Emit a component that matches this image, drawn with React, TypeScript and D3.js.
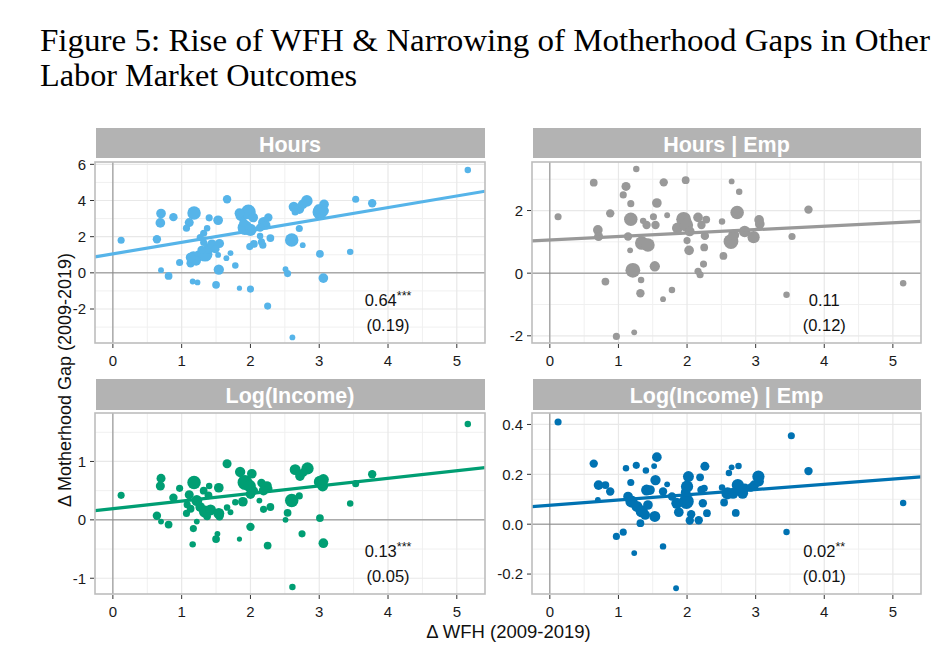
import React from 'react';
import * as d3 from 'd3';

// ---------- data ----------
const titleLines = [
  'Figure 5: Rise of WFH & Narrowing of Motherhood Gaps in Other',
  'Labor Market Outcomes',
];
const panelNames = ['Hours', 'Hours | Emp', 'Log(Income)', 'Log(Income) | Emp'];
const panelColors = ['#56B4E9', '#999999', '#009E73', '#0072B2'];
const coefText = ['0.64', '0.11', '0.13', '0.02'];
const coefStars = ['***', '', '***', '**'];
const seText = ['(0.19)', '(0.12)', '(0.05)', '(0.01)'];
const fitIntercept = [1.05, 1.06, 0.19, 0.076];
const fitSlope = [0.64, 0.11, 0.13, 0.021];
const xTicks = [0, 1, 2, 3, 4, 5];
const xDomain = [-0.26, 5.41];
const yDomains = [
  [-3.88, 6.13],
  [-2.23, 3.55],
  [-1.27, 1.83],
  [-0.28, 0.446],
];
const yTicks = [
  [-2, 0, 2, 4, 6],
  [-2, 0, 2],
  [-1, 0, 1],
  [-0.2, 0, 0.2, 0.4],
];
const yTickLabels = [
  ['-2', '0', '2', '4', '6'],
  ['-2', '0', '2'],
  ['-1', '0', '1'],
  ['-0.2', '0.0', '0.2', '0.4'],
];

// [ΔWFH, Δgap, weight]
const hoursPts = [
  [0.12, 1.8, 8], [5.16, 5.69, 7], [0.7, 3.28, 12], [0.69, 2.76, 12], [0.64, 1.86, 10], [0.88, 3.08, 10],
  [1.18, 3.31, 18], [1.11, 2.78, 11], [1.07, 2.47, 8], [1.4, 3.04, 8], [1.53, 2.91, 12], [1.66, 4.07, 10],
  [1.37, 2.47, 7], [1.32, 2.19, 8], [1.27, 1.95, 8], [0.97, 0.57, 8], [0.7, 0.15, 6], [0.81, -0.17, 9],
  [1.16, -0.48, 6], [1.23, -0.53, 6], [1.5, -0.66, 9], [1.54, 0.18, 13], [1.53, 0.99, 6], [1.65, 0.81, 6],
  [1.71, 1.09, 6], [1.78, 0.41, 7], [1.84, -0.85, 5], [2.0, -0.9, 8], [2.25, -1.84, 8], [2.61, -3.57, 6],
  [1.13, 0.53, 10], [1.17, 0.85, 16], [1.25, 0.94, 14], [1.34, 1.03, 20], [1.39, 1.34, 14], [1.44, 1.58, 12],
  [1.55, 1.62, 11], [1.29, 1.27, 10], [1.21, 0.66, 12], [1.32, 1.68, 8], [1.13, 0.85, 12], [1.49, 1.31, 10],
  [1.87, 3.19, 16], [1.97, 3.37, 20], [1.84, 3.3, 12], [2.04, 3.06, 12], [1.92, 2.5, 20], [2.0, 2.38, 16],
  [1.9, 2.78, 10], [1.99, 1.45, 8], [2.05, 1.6, 9], [2.14, 2.04, 7], [2.16, 1.71, 8], [2.18, 1.53, 8],
  [2.29, 1.92, 9], [2.19, 2.78, 14], [2.23, 2.63, 10], [2.26, 3.06, 10], [2.14, 2.5, 10], [2.6, 1.82, 18],
  [2.71, 2.45, 8], [2.76, 1.53, 6], [2.63, 3.65, 13], [2.71, 3.52, 12], [2.82, 3.98, 15], [2.76, 3.79, 12],
  [2.65, 3.37, 8], [3.01, 3.37, 20], [3.07, 3.79, 12], [2.99, 3.52, 12], [3.07, 3.43, 12], [3.01, 1.05, 9],
  [3.06, -0.29, 12], [2.51, 0.2, 6], [2.54, -0.04, 8], [3.45, 1.16, 7], [3.53, 4.07, 8], [3.77, 3.85, 10],
];

const hoursEmpPts = [
  [0.12, 1.8, 8], [5.15, -0.32, 7], [0.64, 2.89, 9], [0.88, 1.91, 10], [0.7, 1.38, 12], [0.71, 1.17, 11],
  [0.81, -0.27, 9], [0.97, -2.02, 8], [1.23, -1.89, 6], [1.11, 2.77, 11], [1.07, 2.5, 8], [1.26, 3.33, 7],
  [1.18, 2.22, 8], [1.18, 1.72, 18], [1.14, 1.17, 10], [1.17, 0.73, 6], [1.21, 0.09, 20], [1.33, -0.22, 7],
  [1.32, -0.64, 10], [1.36, 1.67, 7], [1.34, 0.96, 18], [1.43, 0.9, 18], [1.41, 1.54, 10], [1.51, 1.8, 8],
  [1.54, 1.54, 10], [1.56, 2.24, 12], [1.53, 0.22, 13], [1.66, 2.9, 10], [1.71, 1.85, 6], [1.65, -0.83, 6],
  [1.78, -0.54, 7], [1.98, 2.97, 9], [1.95, 1.72, 20], [1.86, 1.44, 14], [1.99, 1.54, 18], [2.04, 1.33, 12],
  [2.0, 1.04, 8], [2.03, 0.73, 12], [2.16, 1.78, 12], [2.21, 1.54, 10], [2.28, 1.71, 9], [2.26, 1.19, 10],
  [2.25, 0.82, 9], [2.24, 0.29, 8], [2.16, 0.06, 8], [2.19, -0.05, 8], [2.51, 1.65, 7], [2.53, 0.55, 9],
  [2.64, 1.01, 20], [2.68, 1.22, 14], [2.65, 2.93, 6], [2.76, 2.6, 7], [2.73, 1.94, 18], [2.84, 1.33, 15],
  [2.97, 1.15, 16], [3.05, 1.7, 12], [3.06, 1.57, 12], [3.45, -0.69, 7], [3.53, 1.17, 8], [3.77, 2.03, 10],
];

const incomePts = [
  [0.12, 0.42, 8], [5.16, 1.64, 7], [0.7, 0.71, 11], [0.69, 0.58, 11], [0.64, 0.07, 10], [0.7, -0.03, 6],
  [0.81, -0.08, 9], [0.88, 0.38, 10], [0.97, 0.54, 8], [1.18, 0.64, 18], [1.11, 0.43, 11], [1.08, 0.26, 8],
  [1.07, 0.11, 8], [1.17, -0.15, 8], [1.16, -0.42, 7], [1.22, -0.03, 6], [1.4, 0.58, 7], [1.32, 0.5, 9],
  [1.54, 0.55, 12], [1.66, 0.96, 11], [1.39, 0.42, 9], [1.22, 0.33, 14], [1.27, 0.22, 12], [1.34, 0.14, 16],
  [1.42, 0.17, 14], [1.54, 0.11, 14], [1.55, 0.06, 10], [1.37, 0.06, 9], [1.13, 0.19, 9], [1.52, -0.24, 6],
  [1.5, -0.33, 9], [1.66, 0.21, 7], [1.71, 0.13, 6], [1.78, 0.3, 7], [1.84, -0.33, 5], [2.0, -0.12, 10],
  [1.85, 0.82, 13], [1.92, 0.64, 20], [2.02, 0.79, 12], [1.99, 0.58, 16], [1.89, 0.31, 12], [2.0, 0.44, 12],
  [2.05, 0.5, 10], [2.13, 0.33, 6], [2.16, 0.63, 10], [2.24, 0.58, 12], [2.19, 0.5, 12], [2.19, 0.18, 8],
  [2.29, 0.22, 9], [2.25, -0.44, 9], [2.51, 0.0, 6], [2.54, 0.12, 9], [2.6, 0.33, 18], [2.71, 0.41, 8],
  [2.75, -0.24, 8], [2.65, 0.86, 14], [2.72, 0.75, 12], [2.83, 0.88, 16], [2.77, 0.81, 10], [2.61, -1.15, 7],
  [3.01, 0.65, 16], [3.06, 0.69, 14], [3.05, 0.58, 14], [3.01, 0.03, 9], [3.06, -0.4, 12], [3.45, 0.28, 7],
  [3.53, 0.62, 8], [3.77, 0.78, 10], [2.26, 0.53, 10],
];

const incomeEmpPts = [
  [0.12, 0.41, 8], [5.15, 0.085, 7], [0.64, 0.243, 10], [0.71, 0.157, 12], [0.7, 0.097, 6], [0.81, 0.157, 9],
  [0.88, 0.131, 10], [0.97, -0.049, 8], [1.07, -0.032, 8], [1.23, -0.116, 6], [1.11, 0.224, 7], [1.26, 0.236, 8],
  [1.18, 0.167, 8], [1.4, 0.215, 7], [1.52, 0.233, 6], [1.56, 0.269, 12], [1.54, 0.177, 13], [1.53, 0.031, 14],
  [1.65, -0.089, 7], [1.71, 0.16, 6], [1.65, 0.131, 10], [1.84, -0.257, 6], [1.14, 0.111, 12], [1.19, 0.091, 16],
  [1.27, 0.071, 14], [1.34, 0.051, 16], [1.39, 0.037, 12], [1.43, 0.077, 12], [1.32, 0.004, 9], [1.41, 0.137, 14],
  [1.46, 0.137, 12], [1.78, 0.111, 10], [1.85, 0.084, 14], [1.88, 0.048, 12], [1.99, 0.091, 20], [2.0, 0.151, 16],
  [2.02, 0.191, 14], [1.98, 0.128, 12], [2.04, 0.015, 10], [2.06, 0.04, 10], [2.17, 0.016, 10], [2.19, 0.188, 9],
  [2.21, 0.137, 10], [2.25, 0.144, 8], [2.23, 0.084, 10], [2.26, 0.232, 11], [2.29, 0.044, 9], [2.51, 0.147, 7],
  [2.54, 0.087, 9], [2.61, 0.205, 7], [2.65, 0.228, 6], [2.75, 0.233, 7], [2.71, 0.045, 9], [2.59, 0.124, 16],
  [2.74, 0.157, 16], [2.67, 0.124, 14], [2.81, 0.124, 14], [2.84, 0.144, 12], [2.98, 0.157, 12], [3.04, 0.191, 16],
  [3.05, 0.171, 12], [3.45, -0.031, 7], [3.52, 0.355, 8], [3.77, 0.213, 10], [2.93, 0.147, 10],
];

const panelPoints = [hoursPts, hoursEmpPts, incomePts, incomeEmpPts];

// ---------- layout ----------
const colLeft = [95, 532];
const colRight = [485, 921];
const rowTop = [162, 413];
const rowBottom = [343, 594];
const stripTop = [128, 379];
const stripBottom = [158, 410];
const SANS = "'Liberation Sans', Arial, Helvetica, sans-serif";

function minorTicks(major: number[], dom: number[]) {
  const step = major[1] - major[0];
  const out: number[] = [];
  out.push(major[0] - step / 2);
  for (let i = 0; i < major.length - 1; i++) out.push((major[i] + major[i + 1]) / 2);
  out.push(major[major.length - 1] + step / 2);
  return out.filter((v) => v > dom[0] && v < dom[1]);
}

const rScale = d3.scaleLinear().domain([0, 20]).range([1, 7.4]);

function Panel({ i }: { i: number }) {
  const col = i % 2;
  const row = Math.floor(i / 2);
  const L = colLeft[col], R = colRight[col], T = rowTop[row], B = rowBottom[row];
  const x = d3.scaleLinear().domain(xDomain).range([L, R]);
  const y = d3.scaleLinear().domain(yDomains[i]).range([B, T]);
  const xMinor = minorTicks(xTicks, xDomain);
  const yMinor = minorTicks(yTicks[i], yDomains[i]);
  const color = panelColors[i];
  const line = d3.line<number>().x((v) => x(v)).y((v) => y(fitIntercept[i] + fitSlope[i] * v));
  const clipId = `clip-${i}`;
  const cx = x(4);
  return (
    <g>
      <defs>
        <clipPath id={clipId}>
          <rect x={L} y={T} width={R - L} height={B - T} />
        </clipPath>
      </defs>
      {/* strip */}
      <rect x={L + 1} y={stripTop[row]} width={R - L - 1} height={stripBottom[row] - stripTop[row]} fill="#b3b3b3" />
      <text x={(L + R) / 2} y={stripTop[row] + 23.5} textAnchor="middle" fill="#fff" fontWeight="bold" fontSize={21.5} fontFamily={SANS}>
        {panelNames[i]}
      </text>
      {/* panel bg */}
      <rect x={L} y={T} width={R - L} height={B - T} fill="#fff" />
      <g clipPath={`url(#${clipId})`}>
        {xMinor.map((v) => (
          <line key={'xm' + v} x1={x(v)} x2={x(v)} y1={T} y2={B} stroke="#f0f0f0" strokeWidth={1} />
        ))}
        {yMinor.map((v) => (
          <line key={'ym' + v} x1={L} x2={R} y1={y(v)} y2={y(v)} stroke="#f0f0f0" strokeWidth={1} />
        ))}
        {xTicks.map((v) => (
          <line key={'xM' + v} x1={x(v)} x2={x(v)} y1={T} y2={B} stroke="#e8e8e8" strokeWidth={1.2} />
        ))}
        {yTicks[i].map((v) => (
          <line key={'yM' + v} x1={L} x2={R} y1={y(v)} y2={y(v)} stroke="#e8e8e8" strokeWidth={1.2} />
        ))}
        <line x1={x(0)} x2={x(0)} y1={T} y2={B} stroke="#888" strokeWidth={1} />
        <line x1={L} x2={R} y1={y(0)} y2={y(0)} stroke="#888" strokeWidth={1} />
        {panelPoints[i].map((p, k) => (
          <circle key={k} cx={x(p[0])} cy={y(p[1])} r={rScale(p[2])} fill={color} />
        ))}
        <path d={line(xDomain) || ''} stroke={color} strokeWidth={3.2} fill="none" />
      </g>
      <rect x={L} y={T} width={R - L} height={B - T} fill="none" stroke="#bdbdbd" strokeWidth={1.6} />
      {/* annotation */}
      <text x={cx} y={T + 144} textAnchor="middle" fontSize={16.5} fontFamily={SANS} fill="#111">
        {coefText[i]}
        {coefStars[i] && (
          <tspan fontSize={12.5} dy={-6}>
            {coefStars[i]}
          </tspan>
        )}
      </text>
      <text x={cx} y={T + 169} textAnchor="middle" fontSize={16.5} fontFamily={SANS} fill="#111">
        {seText[i]}
      </text>
      {/* axes */}
      {xTicks.map((v) => (
        <g key={'xt' + v}>
          <line x1={x(v)} x2={x(v)} y1={B + 1} y2={B + 5} stroke="#333" strokeWidth={1} />
          <text x={x(v)} y={B + 23} textAnchor="middle" fontSize={15} fontFamily={SANS} fill="#1a1a1a">
            {String(v)}
          </text>
        </g>
      ))}
      {yTicks[i].map((v, k) => (
        <g key={'yt' + v}>
          <line x1={L - 5} x2={L - 1} y1={y(v)} y2={y(v)} stroke="#333" strokeWidth={1} />
          <text x={L - 9} y={y(v)} dy="0.36em" textAnchor="end" fontSize={15} fontFamily={SANS} fill="#1a1a1a">
            {yTickLabels[i][k]}
          </text>
        </g>
      ))}
    </g>
  );
}

export default function App() {
  return (
    <svg width={951} height={662} style={{ position: 'absolute', left: 0, top: 0, background: '#fff' }}>
      <rect x={0} y={0} width={951} height={662} fill="#fff" />
      <text x={40} y={51} fontSize={31} fontFamily="'Liberation Serif', 'DejaVu Serif', serif" textLength={890} lengthAdjust="spacingAndGlyphs" fill="#000">
        {titleLines[0]}
      </text>
      <text x={40} y={86} fontSize={31} fontFamily="'Liberation Serif', 'DejaVu Serif', serif" textLength={317} lengthAdjust="spacingAndGlyphs" fill="#000">
        {titleLines[1]}
      </text>
      {[0, 1, 2, 3].map((i) => (
        <Panel key={i} i={i} />
      ))}
      <text x={508.5} y={638} textAnchor="middle" fontSize={18.5} fontFamily={SANS} fill="#111">
        Δ WFH (2009-2019)
      </text>
      <text transform="translate(71,380) rotate(-90)" textAnchor="middle" fontSize={18} fontFamily={SANS} fill="#111">
        Δ Motherhood Gap (2009-2019)
      </text>
    </svg>
  );
}
